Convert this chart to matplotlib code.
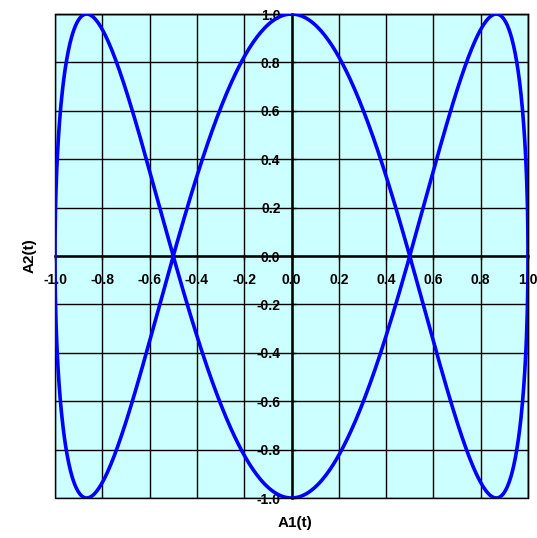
import matplotlib.pyplot as plt
import numpy as np
from matplotlib.patches import Rectangle

plt.rcParams['font.family'] = ['Liberation Sans', 'DejaVu Sans']
plt.rcParams['axes.unicode_minus'] = False

# Lissajous figure: A1(t) = sin(f1 t), A2(t) = cos(f2 t)
freq_A1 = 1
freq_A2 = 3
n_points = 1200

tick_values = [-1.0, -0.8, -0.6, -0.4, -0.2, 0.0, 0.2, 0.4, 0.6, 0.8, 1.0]
tick_labels = ['-1.0', '-0.8', '-0.6', '-0.4', '-0.2', '0.0',
               '0.2', '0.4', '0.6', '0.8', '1.0']

t = np.linspace(0, 2 * np.pi, n_points)
A1 = np.sin(freq_A1 * t)
A2 = np.cos(freq_A2 * t)

fig = plt.figure(figsize=(5.37, 5.38), dpi=100)
ax = fig.add_axes([55 / 537, 1 - 498 / 538, 473 / 537, 484 / 538])
ax.set_facecolor('#ccffff')

# move the axes lines through the origin first (this resets the ticks)
ax.spines['left'].set_position('zero')
ax.spines['bottom'].set_position('zero')
ax.spines['left'].set_linewidth(1.8)
ax.spines['bottom'].set_linewidth(1.8)
ax.spines['top'].set_linewidth(1.0)
ax.spines['right'].set_linewidth(1.0)

ax.plot(A1, A2, color='#0000ff', linewidth=2.6, zorder=3)

ax.set_xlim(-1, 1)
ax.set_ylim(-1, 1)
ax.set_xticks(tick_values)
ax.set_yticks(tick_values)
ax.set_xticklabels(tick_labels, fontsize=10, fontweight='bold')
ax.set_yticklabels(tick_labels, fontsize=10, fontweight='bold')
ax.grid(True, color='black', linewidth=1.0, zorder=1)
ax.set_axisbelow(True)

ax.tick_params(axis='x', direction='out', length=3, width=1, pad=9)
ax.tick_params(axis='y', direction='in', length=3, width=1, pad=8)

ax.add_patch(Rectangle((0, 0), 1, 1, transform=ax.transAxes, fill=False,
                       edgecolor='black', linewidth=1.0, clip_on=False,
                       zorder=2))

fig.text(295 / 537, 1 - 523 / 538, 'A1(t)', ha='center', va='center',
         fontsize=11, fontweight='bold')
fig.text(30 / 537, 1 - 256 / 538, 'A2(t)', ha='center', va='center',
         rotation=90, fontsize=11, fontweight='bold')

fig.savefig('out.png', dpi=100)
